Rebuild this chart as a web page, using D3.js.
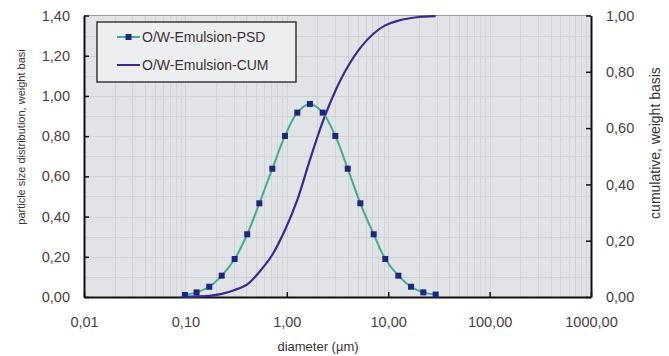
<!DOCTYPE html>
<html><head><meta charset="utf-8">
<script src="https://cdn.jsdelivr.net/npm/d3@7/dist/d3.min.js"></script>
<style>
html,body{margin:0;padding:0;background:#fff;}
svg{display:block;font-family:"Liberation Sans",Arial,sans-serif;}
</style></head>
<body>
<svg id="chart" width="669" height="356"></svg>
<script>
// ---- data ----
const diameters = [0.099, 0.129, 0.172, 0.228, 0.306, 0.407, 0.536, 0.72, 0.96, 1.27, 1.69, 2.26, 3.01, 3.99, 5.31, 7.19, 9.36, 12.6, 16.8, 22.2, 29.4];
const psdValues = [0.010, 0.023, 0.051, 0.106, 0.189, 0.312, 0.466, 0.638, 0.801, 0.917, 0.960, 0.917, 0.801, 0.638, 0.466, 0.312, 0.189, 0.106, 0.051, 0.023, 0.012];
const cumValues = [0.001, 0.002, 0.004, 0.011, 0.025, 0.045, 0.089, 0.150, 0.238, 0.345, 0.487, 0.622, 0.732, 0.818, 0.885, 0.936, 0.965, 0.982, 0.991, 0.996, 0.998];
const xTicks = [0.01, 0.1, 1, 10, 100, 1000];
const xTickLabels = ["0,01", "0,10", "1,00", "10,00", "100,00", "1000,00"];
const yLeftTicks = [0, 0.2, 0.4, 0.6, 0.8, 1.0, 1.2, 1.4];
const yRightTicks = [0, 0.2, 0.4, 0.6, 0.8, 1.0];
const seriesNames = ["O/W-Emulsion-PSD", "O/W-Emulsion-CUM"];

const fmt = d => d.toFixed(2).replace(".", ",");

const svg = d3.select("#chart");
const L = 84, R = 591, T = 15.5, B = 297;
const x = d3.scaleLog().domain([0.01, 1000]).range([L, R]);
const yL = d3.scaleLinear().domain([0, 1.4]).range([B, T]);
const yR = d3.scaleLinear().domain([0, 1]).range([B, T]);

// plot background
svg.append("rect").attr("x", L).attr("y", T).attr("width", R - L).attr("height", B - T).attr("fill", "#e1e3e7");

// grid
const grid = svg.append("g").attr("stroke", "#d0d3d8").attr("stroke-width", 1);
const minor = [];
for (let e = -2; e < 3; e++) for (let m = 1; m < 10; m++) minor.push(m * Math.pow(10, e));
grid.selectAll("line.v").data(minor.slice(1)).join("line")
  .attr("x1", d => Math.round(x(d)) + 0.5).attr("x2", d => Math.round(x(d)) + 0.5)
  .attr("y1", T).attr("y2", B);
const hg = d3.range(1, 14).map(i => i * 0.1);
grid.selectAll("line.h").data(hg).join("line")
  .attr("x1", L).attr("x2", R)
  .attr("y1", d => Math.round(yL(d)) + 0.5).attr("y2", d => Math.round(yL(d)) + 0.5);

// top border
svg.append("line").attr("x1", L).attr("x2", R).attr("y1", T).attr("y2", T).attr("stroke", "#9a9a9a").attr("stroke-width", 1);

// axes
const tickColor = "#4a3e3e";
const axB = svg.append("g").attr("transform", `translate(0,${B})`)
  .call(d3.axisBottom(x).tickValues(xTicks).tickFormat((d, i) => xTickLabels[i]).tickSizeInner(-5).tickSizeOuter(0).tickPadding(26));
const axL = svg.append("g").attr("transform", `translate(${L},0)`)
  .call(d3.axisLeft(yL).tickValues(yLeftTicks).tickFormat(fmt).tickSizeInner(-5).tickSizeOuter(0).tickPadding(14));
const axR = svg.append("g").attr("transform", `translate(${R},0)`)
  .call(d3.axisRight(yR).tickValues(yRightTicks).tickFormat(fmt).tickSizeInner(-5).tickSizeOuter(0).tickPadding(15));
[axB, axL, axR].forEach(a => {
  a.select(".domain").attr("stroke", "#111").attr("stroke-width", 2);
  a.selectAll(".tick line").attr("stroke", "#111").attr("stroke-width", 1.5);
  a.selectAll(".tick text").attr("fill", tickColor).attr("font-size", 14.5).attr("font-family", "Liberation Sans, Arial, sans-serif");
});
axB.selectAll(".tick text").attr("dy", "0.3em");

// axis titles
svg.append("text").attr("x", 318).attr("y", 351).attr("text-anchor", "middle")
  .attr("font-size", 13).attr("fill", "#3a3333").text("diameter (µm)");
svg.append("text").attr("transform", "translate(25,137) rotate(-90)").attr("text-anchor", "middle")
  .attr("font-size", 11).attr("fill", "#3a3333").text("particle size distribution, weight basi");
svg.append("text").attr("transform", "translate(660,143) rotate(-90)").attr("text-anchor", "middle")
  .attr("font-size", 14).attr("fill", "#3a3333").text("cumulative, weight basis");

// series
const psdColor = "#3fae8e", markColor = "#1f2680", cumColor = "#3c2a8c";
const psd = diameters.map((d, i) => [d, psdValues[i]]);
const cum = diameters.map((d, i) => [d, cumValues[i]]);
svg.append("path").datum(cum)
  .attr("d", d3.line().x(d => x(d[0])).y(d => yR(d[1])).curve(d3.curveCatmullRom))
  .attr("fill", "none").attr("stroke", cumColor).attr("stroke-width", 2.2);
svg.append("path").datum(psd)
  .attr("d", d3.line().x(d => x(d[0])).y(d => yL(d[1])).curve(d3.curveCatmullRom))
  .attr("fill", "none").attr("stroke", psdColor).attr("stroke-width", 2);
svg.append("g").selectAll("rect").data(psd).join("rect")
  .attr("x", d => x(d[0]) - 3).attr("y", d => yL(d[1]) - 3)
  .attr("width", 6).attr("height", 6).attr("fill", markColor);

// legend
const lg = svg.append("g");
lg.append("rect").attr("x", 97).attr("y", 22).attr("width", 199).attr("height", 60)
  .attr("fill", "#eceef0").attr("stroke", "#3a3a3a").attr("stroke-width", 1.5);
const ly = [37, 65];
lg.append("line").attr("x1", 117).attr("x2", 140).attr("y1", ly[0]).attr("y2", ly[0]).attr("stroke", psdColor).attr("stroke-width", 2);
lg.append("rect").attr("x", 128.5 - 3).attr("y", ly[0] - 3).attr("width", 6).attr("height", 6).attr("fill", markColor);
lg.append("line").attr("x1", 117).attr("x2", 140).attr("y1", ly[1]).attr("y2", ly[1]).attr("stroke", cumColor).attr("stroke-width", 2);
lg.selectAll("text").data(seriesNames).join("text")
  .attr("x", 142).attr("y", (d, i) => ly[i]).attr("dy", "0.35em")
  .attr("font-size", 14).attr("fill", "#3a3333").text(d => d);
</script>
</body></html>
